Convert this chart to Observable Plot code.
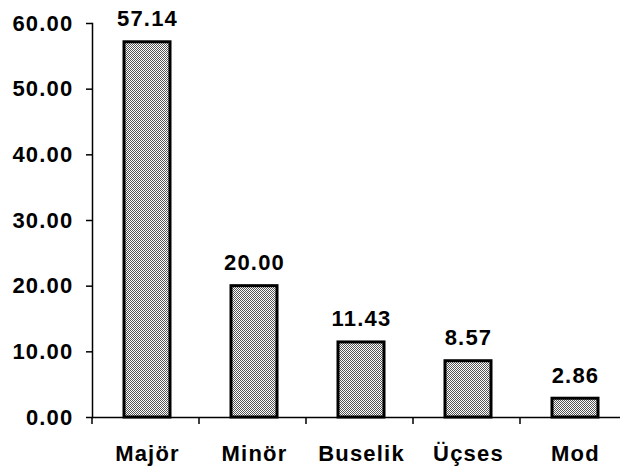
<!DOCTYPE html>
<html>
<head>
<meta charset="utf-8">
<script src="https://cdn.jsdelivr.net/npm/d3@7"></script>
<script src="https://cdn.jsdelivr.net/npm/@observablehq/plot@0.6"></script>
<style>
  html, body { margin: 0; padding: 0; background: #fff; }
  #chart svg { display: block; }
</style>
</head>
<body>
<div id="chart"></div>
<script>
const categories = ["Majör", "Minör", "Buselik", "Üçses", "Mod"];
const values = [57.14, 20.00, 11.43, 8.57, 2.86];
const yTicks = [0, 10, 20, 30, 40, 50, 60];

const data = categories.map((c, i) => ({category: c, value: values[i]}));

const W = 620, H = 472;
const mL = 92, mT = 23, mB = 55;
const xRange = [94, 629];
const step = (xRange[1] - xRange[0]) / categories.length;

const font = "'Liberation Sans', Arial, sans-serif";

const chart = Plot.plot({
  width: W,
  height: H,
  marginLeft: mL,
  marginRight: 0,
  marginTop: mT,
  marginBottom: mB,
  style: {fontFamily: font, fontSize: "22px", fontWeight: "bold", color: "#000", background: "#fff", overflow: "visible"},
  x: {domain: categories, range: xRange, paddingInner: 0.57, paddingOuter: 0.285},
  y: {domain: [0, 60], range: [H - mB, mT]},
  marks: [
    Plot.barY(data, {x: "category", y: "value", fill: "url(#dots)", stroke: "#000", strokeWidth: 3}),
    Plot.frame({anchor: "left", stroke: "#000", strokeWidth: 1.5}),
    Plot.ruleY([0], {stroke: "#000", strokeWidth: 1.5}),
    Plot.axisY({ticks: yTicks, tickFormat: d => d.toFixed(2), tickSize: 6, tickPadding: 13, strokeWidth: 1.5, label: null}),
    Plot.axisX({tickSize: 7, text: null, dx: -step / 2 - 2, strokeWidth: 1.5, label: null}),
    Plot.axisX({tickSize: 0, tickPadding: 28, label: null}),
    Plot.text(data, {x: "category", y: "value", text: d => d.value.toFixed(2), lineAnchor: "bottom", dy: -16})
  ]
});

// pattern for the dotted bar fill
const ns = "http://www.w3.org/2000/svg";
const defs = document.createElementNS(ns, "defs");
const pat = document.createElementNS(ns, "pattern");
pat.setAttribute("id", "dots");
pat.setAttribute("patternUnits", "userSpaceOnUse");
pat.setAttribute("width", "2");
pat.setAttribute("height", "2");
const bg = document.createElementNS(ns, "rect");
bg.setAttribute("width", "2"); bg.setAttribute("height", "2"); bg.setAttribute("fill", "#fff");
const a = document.createElementNS(ns, "rect");
a.setAttribute("x", "0"); a.setAttribute("y", "0"); a.setAttribute("width", "1"); a.setAttribute("height", "1"); a.setAttribute("fill", "#555");
const b = document.createElementNS(ns, "rect");
b.setAttribute("x", "1"); b.setAttribute("y", "1"); b.setAttribute("width", "1"); b.setAttribute("height", "1"); b.setAttribute("fill", "#555");
pat.append(bg, a, b);
defs.append(pat);
chart.insertBefore(defs, chart.firstChild);

chart.querySelectorAll("text").forEach(t => {
  t.setAttribute("letter-spacing", "1.2");
  t.setAttribute("font-size", "22");
});

document.getElementById("chart").append(chart);
</script>
</body>
</html>
